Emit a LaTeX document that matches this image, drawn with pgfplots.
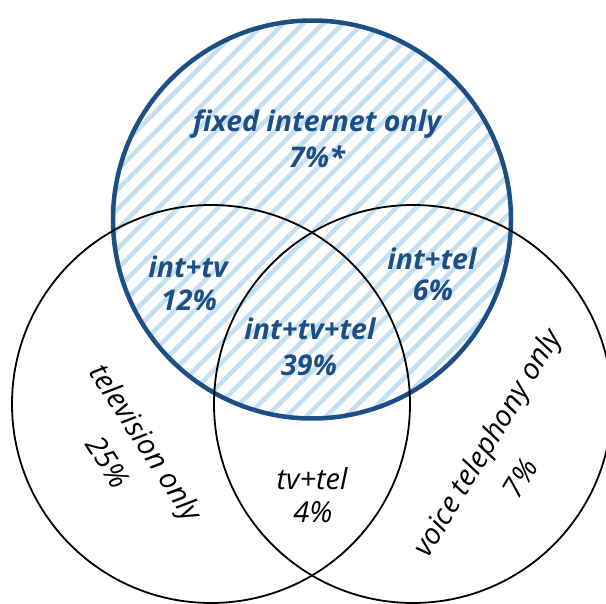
\documentclass[border=0pt]{standalone}
\usepackage{pgfplots}
\pgfplotsset{compat=1.18}
\usepackage{fontspec}
\setmainfont{Open Sans}
\usetikzlibrary{patterns.meta}
\definecolor{intblue}{HTML}{1B4F85}
\definecolor{hatchblue}{HTML}{C3DFF1}
\begin{document}
\begin{tikzpicture}
\begin{axis}[width=606pt,height=604pt,scale only axis,hide axis,
  xmin=0,xmax=606,ymin=0,ymax=604,y dir=reverse,
  clip=true,clip bounding box=upper bound]
\fill[white] (axis cs:0,0) rectangle (axis cs:606,604);
% fixed internet circle: hatched
\path[pattern={Lines[angle=45,distance=14pt,line width=4.5pt]},pattern color=hatchblue]
  (axis cs:312,219.5) circle[radius=199];
\draw[intblue,line width=4.5pt] (axis cs:312,219.5) circle[radius=199];
% television circle
\draw[black,line width=1.8pt] (axis cs:211,404) circle[radius=199];
% voice telephony circle
\draw[black,line width=1.8pt] (axis cs:413,404) circle[radius=199];
% labels
\tikzset{bl/.style={text=intblue,font=\bfseries\itshape\fontsize{28.5}{32}\selectfont,inner sep=0pt},
         kl/.style={text=black,font=\itshape\fontsize{29}{33}\selectfont,inner sep=0pt}}
\node[bl] at (axis cs:317,124) {fixed internet only};
\node[bl] at (axis cs:317,157) {7\%*};
\node[bl] at (axis cs:188,267) {int+tv};
\node[bl] at (axis cs:189,300) {12\%};
\node[bl] at (axis cs:432,259) {int+tel};
\node[bl] at (axis cs:433,290) {6\%};
\node[bl] at (axis cs:310,329) {int+tv+tel};
\node[bl] at (axis cs:309,365) {39\%};
\node[kl] at (axis cs:312,479) {tv+tel};
\node[kl] at (axis cs:313,512) {4\%};
\node[kl,rotate=-57] at (axis cs:144,444) {television only};
\node[kl,rotate=-57] at (axis cs:108,462) {25\%};
\node[kl,rotate=59] at (axis cs:489,444) {voice telephony only};
\node[kl,rotate=59] at (axis cs:520,478) {7\%};
\end{axis}
\end{tikzpicture}
\end{document}
